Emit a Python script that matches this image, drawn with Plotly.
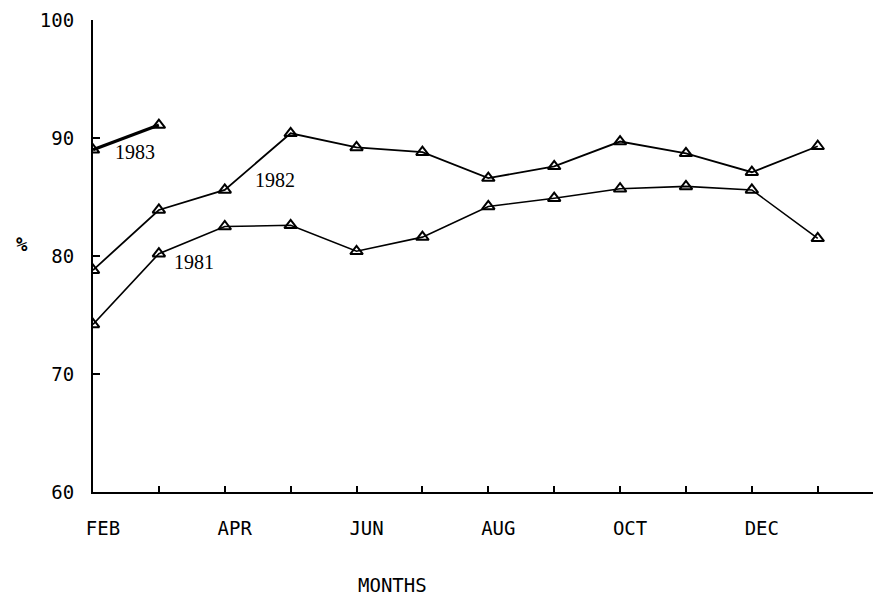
import plotly.graph_objects as go

months = ["FEB", "MAR", "APR", "MAY", "JUN", "JUL", "AUG", "SEP", "OCT", "NOV", "DEC", "JAN"]
tick_labels = ["FEB", "", "APR", "", "JUN", "", "AUG", "", "OCT", "", "DEC", ""]
y_ticks = [60, 70, 80, 90, 100]

v1981 = [74.2, 80.2, 82.5, 82.6, 80.4, 81.6, 84.2, 84.9, 85.7, 85.9, 85.6, 81.5]
v1982 = [78.8, 83.9, 85.6, 90.4, 89.2, 88.8, 86.6, 87.6, 89.7, 88.7, 87.1, 89.3]
v1983 = [89.0, 91.1]

label_font = dict(family="Liberation Serif", size=20, color="black")
mono = dict(family="DejaVu Sans Mono", size=19, color="black")

x_all = list(range(len(months)))

fig = go.Figure()
marker = dict(symbol="triangle-up-open", size=11, color="black", line=dict(width=2, color="black"))
fig.add_trace(go.Scatter(x=x_all, y=v1981, mode="lines+markers",
                         line=dict(color="black", width=1.6), marker=marker, name="1981"))
fig.add_trace(go.Scatter(x=x_all, y=v1982, mode="lines+markers",
                         line=dict(color="black", width=1.8), marker=marker, name="1982"))
fig.add_trace(go.Scatter(x=x_all[:len(v1983)], y=v1983, mode="lines+markers",
                         line=dict(color="black", width=3.2), marker=marker, name="1983"))

fig.add_annotation(x=0.3, y=88.8, text="1983", showarrow=False, xanchor="left", yanchor="middle", font=label_font)
fig.add_annotation(x=2.43, y=86.4, text="1982", showarrow=False, xanchor="left", yanchor="middle", font=label_font)
fig.add_annotation(x=1.2, y=79.5, text="1981", showarrow=False, xanchor="left", yanchor="middle", font=label_font)

fig.add_annotation(x=-0.1005, xref="paper", y=0.525, yref="paper", text="<b>%</b>", showarrow=False,
                   font=dict(family="DejaVu Sans Mono", size=19, color="black"))
fig.add_annotation(x=0.381, xref="paper", y=-0.197, yref="paper", text="MONTHS", showarrow=False,
                   font=mono, yanchor="middle")

fig.update_layout(
    width=881, height=595,
    margin=dict(l=85, r=10, t=12, b=111),
    plot_bgcolor="white", paper_bgcolor="white",
    showlegend=False,
    xaxis=dict(range=[0, 11.93], tickvals=x_all, ticktext=tick_labels,
               ticks="inside", ticklen=6, tickwidth=1.5, tickcolor="black",
               showline=True, linecolor="black", linewidth=2, showgrid=False, zeroline=False,
               tickfont=mono, ticklabelstandoff=18, ticklabelshift=10, automargin=False),
    yaxis=dict(range=[60, 100], tickvals=y_ticks, ticktext=[str(v) for v in y_ticks],
               ticks="inside", ticklen=7, tickwidth=1.5, tickcolor="black",
               showline=True, linecolor="black", linewidth=2, showgrid=False, zeroline=False,
               tickfont=mono, ticklabelstandoff=13, automargin=False),
)

fig.write_html("out.html")
